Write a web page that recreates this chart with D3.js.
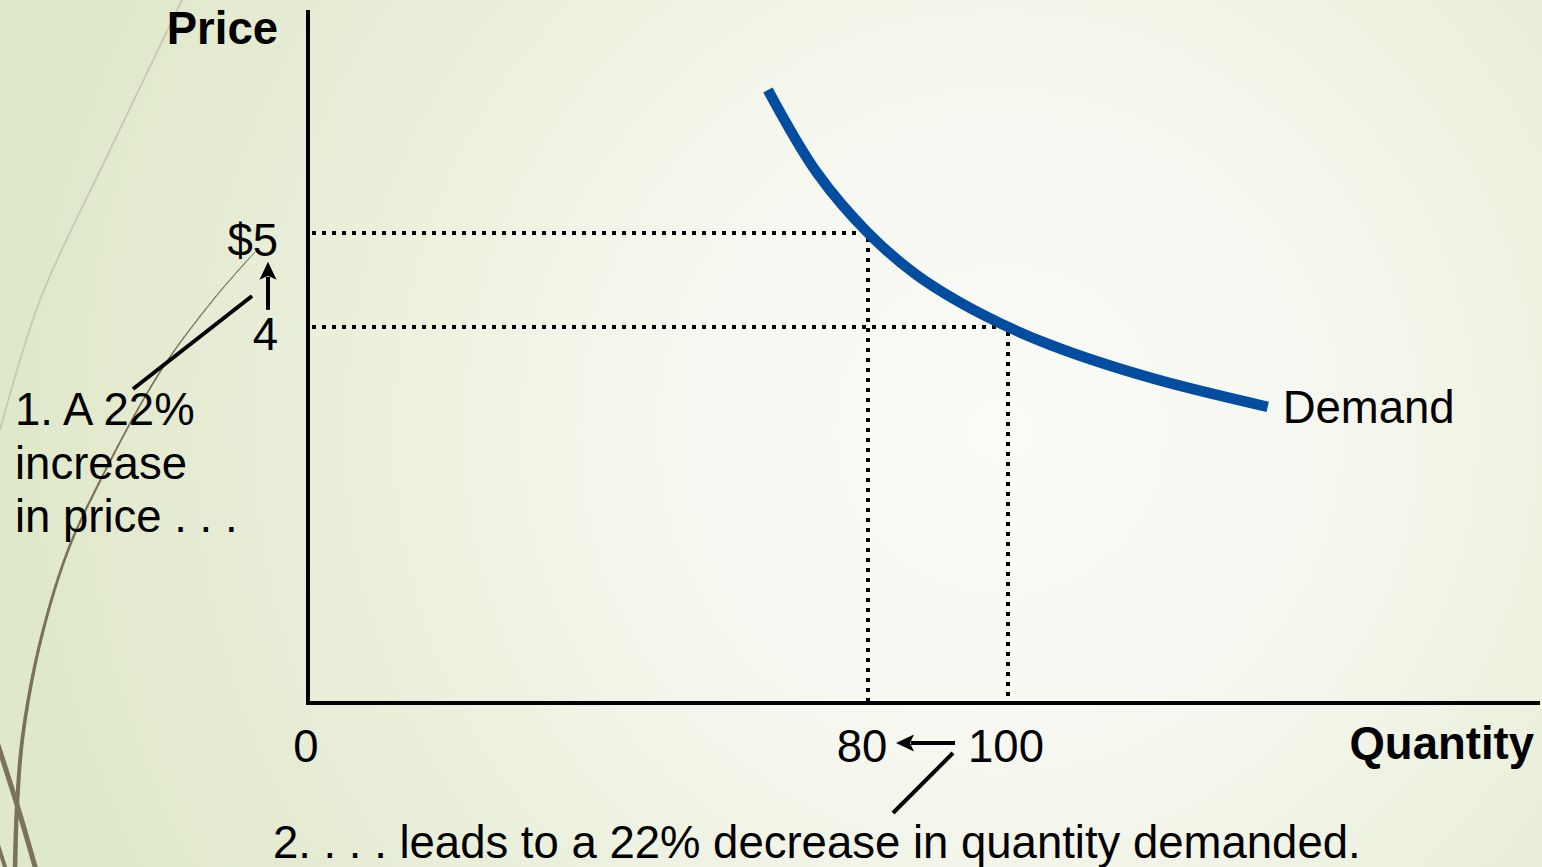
<!DOCTYPE html>
<html>
<head>
<meta charset="utf-8">
<script src="https://cdn.jsdelivr.net/npm/d3@7/dist/d3.min.js"></script>
<style>
  html, body { margin: 0; padding: 0; overflow: hidden; background: #eef2e2; }
  svg { display: block; }
  text { font-family: "Liberation Sans", Arial, sans-serif; fill: #000; }
</style>
</head>
<body>
<svg id="chart" width="1542" height="867"></svg>
<script>
// ---- data ----
const quantityTicks = [0, 80, 100];
const quantityTickLabels = ["0", "80", "100"];
const priceTicks = [5, 4];
const priceTickLabels = ["$5", "4"];

// demand schedule (quantity, price)
const demandQuantity = [65.7, 72.7, 80, 87, 96.4, 106, 120.3, 137.1];
const demandPrice    = [6.52, 5.64, 5.0, 4.55, 4.13, 3.81, 3.46, 3.15];

// the two points on the curve that are compared
const compareQuantity = [80, 100];
const comparePrice    = [5, 4];

const axisTitles = ["Price", "Quantity"];
const curveName = "Demand";
const noteLeft = ["1. A 22%", "increase", "in price . . ."];
const noteBottom = "2. . . . leads to a 22% decrease in quantity demanded.";

// ---- setup ----
const W = 1542, H = 867;
const FS = 45.5;
const svg = d3.select("#chart");

const x = d3.scaleLinear().domain([0, 176]).range([308, 1540]);
const y = d3.scaleLinear().domain([0, 7.37]).range([703, 10]);

// background wash
const defs = svg.append("defs");
const grad = defs.append("radialGradient")
  .attr("id", "wash").attr("gradientUnits", "userSpaceOnUse")
  .attr("cx", 1000).attr("cy", 430).attr("r", 980);
[[0, "#fbfbf8"], [0.3, "#f7f8f1"], [0.65, "#ebf0dc"], [1, "#e0e8ca"]]
  .forEach(([o, c]) => grad.append("stop").attr("offset", o).attr("stop-color", c));
svg.append("rect").attr("width", W).attr("height", H).attr("fill", "url(#wash)");

// theme swirls on the left edge
const deco = svg.append("g").attr("fill", "none");
const smooth = d3.line().curve(d3.curveCatmullRom);
deco.append("path")
  .attr("d", smooth([[182, 0], [110, 150], [40, 300], [0, 430]]))
  .attr("stroke", "#c9c7b8").attr("stroke-width", 1.8);

// tapered brown stroke, thin at the top and heavier at the bottom
const swirlPts = [[255, 252], [213, 300], [160, 372], [100, 481], [67, 553], [40, 643], [23, 734], [17, 806], [15, 870]];
const tmp = deco.append("path").attr("d", smooth(swirlPts)).attr("stroke", "none");
const len = tmp.node().getTotalLength();
const N = 80;
for (let i = 0; i < N; i++) {
  const a = tmp.node().getPointAtLength(len * i / N);
  const b = tmp.node().getPointAtLength(len * (i + 1) / N);
  deco.append("line")
    .attr("x1", a.x).attr("y1", a.y).attr("x2", b.x).attr("y2", b.y)
    .attr("stroke", "#7c7259").attr("stroke-linecap", "round")
    .attr("stroke-width", 1 + 3.6 * Math.pow(i / N, 1.3));
}
tmp.remove();
deco.append("path").attr("d", smooth([[-2, 745], [18, 808], [36, 870]]))
  .attr("stroke", "#7c7259").attr("stroke-width", 5);
deco.append("path").attr("d", smooth([[-2, 845], [6, 870]]))
  .attr("stroke", "#7c7259").attr("stroke-width", 4);

const g = svg.append("g");
const px = v => Math.round(x(v));
const py = v => Math.round(y(v));

// guide lines from the axes to the compared points
const dots = g.append("g").attr("stroke", "#000").attr("stroke-width", 4)
  .attr("stroke-dasharray", "4 6").attr("fill", "none");
compareQuantity.forEach((q, i) => {
  const p = comparePrice[i];
  dots.append("line")
    .attr("x1", px(0) + 4).attr("x2", px(q) - 7)
    .attr("y1", py(p)).attr("y2", py(p));
  dots.append("line")
    .attr("x1", px(q)).attr("x2", px(q))
    .attr("y1", py(p) + 5).attr("y2", py(0));
});

// axes
g.append("line").attr("x1", px(0)).attr("x2", px(0))
  .attr("y1", y.range()[1]).attr("y2", py(0) + 2)
  .attr("stroke", "#000").attr("stroke-width", 4);
g.append("line").attr("x1", px(0) - 2).attr("x2", x.range()[1])
  .attr("y1", py(0)).attr("y2", py(0))
  .attr("stroke", "#000").attr("stroke-width", 4);

// demand curve
const demand = demandQuantity.map((q, i) => [q, demandPrice[i]]);
g.append("path")
  .attr("d", d3.line().x(d => x(d[0])).y(d => y(d[1])).curve(d3.curveCatmullRom)(demand))
  .attr("fill", "none").attr("stroke", "#024d9f").attr("stroke-width", 10.5)
  .attr("stroke-linecap", "butt");

const last = demand[demand.length - 1];
g.append("text").attr("x", x(last[0]) + 15).attr("y", y(last[1]) + 16)
  .attr("font-size", FS).text(curveName);

// axis titles
g.append("text").attr("x", x(0) - 30).attr("y", 44).attr("text-anchor", "end")
  .attr("font-size", FS).attr("font-weight", "bold").text(axisTitles[0]);
g.append("text").attr("x", x.range()[1] - 6).attr("y", 759).attr("text-anchor", "end")
  .attr("font-size", FS).attr("font-weight", "bold").text(axisTitles[1]);

// tick labels
g.selectAll(".ptick").data(priceTicks).join("text").attr("class", "ptick")
  .attr("x", x(0) - 30).attr("y", d => y(d) + 23).attr("text-anchor", "end")
  .attr("font-size", FS).text((d, i) => priceTickLabels[i]);

const qShift = [-2, -6, -2];
g.selectAll(".qtick").data(quantityTicks).join("text").attr("class", "qtick")
  .attr("x", (d, i) => x(d) + qShift[i]).attr("y", 762).attr("text-anchor", "middle")
  .attr("font-size", FS).text((d, i) => quantityTickLabels[i]);

// arrows: price up from 4 to 5, quantity back from 100 to 80
function arrow(x1, y1, x2, y2) {
  const ang = Math.atan2(y2 - y1, x2 - x1);
  const hl = 18, hw = 8.5;
  const bx = x2 - hl * Math.cos(ang), by = y2 - hl * Math.sin(ang);
  g.append("line").attr("x1", x1).attr("y1", y1).attr("x2", bx + 3 * Math.cos(ang)).attr("y2", by + 3 * Math.sin(ang))
    .attr("stroke", "#000").attr("stroke-width", 4);
  g.append("path")
    .attr("d", `M${x2},${y2}L${bx - hw * Math.sin(ang)},${by + hw * Math.cos(ang)}L${bx + 4 * Math.cos(ang)},${by + 4 * Math.sin(ang)}L${bx + hw * Math.sin(ang)},${by - hw * Math.cos(ang)}Z`)
    .attr("fill", "#000");
}
arrow(x(0) - 40, y(4) - 17, x(0) - 40, y(5) + 29);
arrow(x(100) - 53, 743, x(80) + 28, 743);

// leader lines from the notes
g.append("line").attr("x1", 133).attr("y1", 389).attr("x2", 252).attr("y2", 296)
  .attr("stroke", "#000").attr("stroke-width", 4);
g.append("line").attr("x1", 953).attr("y1", 753).attr("x2", 893).attr("y2", 813)
  .attr("stroke", "#000").attr("stroke-width", 4);

// notes
g.selectAll(".note").data(noteLeft).join("text").attr("class", "note")
  .attr("x", 15).attr("y", (d, i) => 425 + i * 53.5)
  .attr("font-size", FS).text(d => d);
g.append("text").attr("x", 273).attr("y", 858).attr("font-size", FS).text(noteBottom);
</script>
</body>
</html>
